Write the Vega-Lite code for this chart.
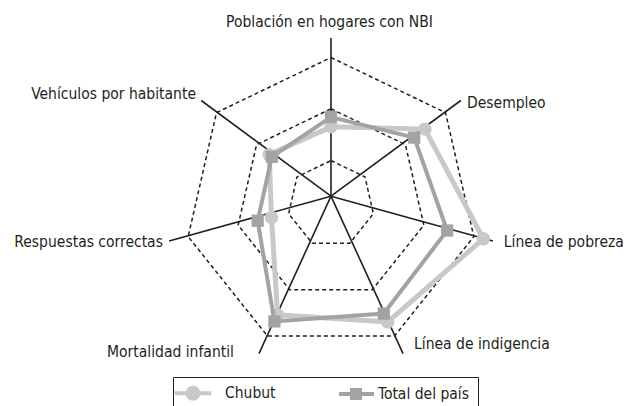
{
  "$schema": "https://vega.github.io/schema/vega-lite/v6.json",
  "width": 626,
  "height": 406,
  "padding": 0,
  "autosize": {"type": "none"},
  "background": "white",
  "config": {"view": {"stroke": null}, "font": "DejaVu Sans Condensed, Liberation Sans, sans-serif"},
  "datasets": {
    "ejes": [
      {"idx": 0, "eje": "Población en hogares con NBI"},
      {"idx": 1, "eje": "Desempleo"},
      {"idx": 2, "eje": "Línea de pobreza"},
      {"idx": 3, "eje": "Línea de indigencia"},
      {"idx": 4, "eje": "Mortalidad infantil"},
      {"idx": 5, "eje": "Respuestas correctas"},
      {"idx": 6, "eje": "Vehículos por habitante"}
    ],
    "anillos": [
      {"nivel": 0.89, "idx": 0}, {"nivel": 0.89, "idx": 1}, {"nivel": 0.89, "idx": 2}, {"nivel": 0.89, "idx": 3}, {"nivel": 0.89, "idx": 4}, {"nivel": 0.89, "idx": 5}, {"nivel": 0.89, "idx": 6},
      {"nivel": 1.95, "idx": 0}, {"nivel": 1.95, "idx": 1}, {"nivel": 1.95, "idx": 2}, {"nivel": 1.95, "idx": 3}, {"nivel": 1.95, "idx": 4}, {"nivel": 1.95, "idx": 5}, {"nivel": 1.95, "idx": 6},
      {"nivel": 3.0, "idx": 0}, {"nivel": 3.0, "idx": 1}, {"nivel": 3.0, "idx": 2}, {"nivel": 3.0, "idx": 3}, {"nivel": 3.0, "idx": 4}, {"nivel": 3.0, "idx": 5}, {"nivel": 3.0, "idx": 6}
    ],
    "series": [
      {"serie": "Chubut", "idx": 0, "valor": 1.58},
      {"serie": "Chubut", "idx": 1, "valor": 2.46},
      {"serie": "Chubut", "idx": 2, "valor": 3.20},
      {"serie": "Chubut", "idx": 3, "valor": 2.68},
      {"serie": "Chubut", "idx": 4, "valor": 2.52},
      {"serie": "Chubut", "idx": 5, "valor": 1.25},
      {"serie": "Chubut", "idx": 6, "valor": 1.62},
      {"serie": "Total del país", "idx": 0, "valor": 1.78},
      {"serie": "Total del país", "idx": 1, "valor": 2.18},
      {"serie": "Total del país", "idx": 2, "valor": 2.44},
      {"serie": "Total del país", "idx": 3, "valor": 2.49},
      {"serie": "Total del país", "idx": 4, "valor": 2.67},
      {"serie": "Total del país", "idx": 5, "valor": 1.54},
      {"serie": "Total del país", "idx": 6, "valor": 1.55}
    ]
  },
  "encoding": {
    "x": {"field": "x", "type": "quantitative", "scale": {"domain": [-6.7786, 6.0414], "nice": false, "zero": false}, "axis": null},
    "y": {"field": "y", "type": "quantitative", "scale": {"domain": [-4.1368, 4.1777], "nice": false, "zero": false}, "axis": null}
  },
  "layer": [
    {
      "data": {"name": "anillos"},
      "transform": [
        {"calculate": "datum.idx * 2 * PI / 7", "as": "t"},
        {"calculate": "datum.nivel * sin(datum.t)", "as": "x"},
        {"calculate": "datum.nivel * cos(datum.t)", "as": "y"}
      ],
      "mark": {"type": "line", "interpolate": "linear-closed", "stroke": "#231f20", "strokeWidth": 1.5, "strokeDash": [4, 3]},
      "encoding": {"detail": {"field": "nivel", "type": "nominal"}, "order": {"field": "idx", "type": "quantitative"}}
    },
    {
      "data": {"name": "ejes"},
      "transform": [
        {"calculate": "datum.idx * 2 * PI / 7", "as": "t"},
        {"calculate": "3.4 * sin(datum.t)", "as": "x"},
        {"calculate": "3.4 * cos(datum.t)", "as": "y"}
      ],
      "mark": {"type": "rule", "stroke": "#231f20", "strokeWidth": 1.6},
      "encoding": {"x2": {"datum": 0}, "y2": {"datum": 0.16}}
    },
    {
      "data": {"name": "series"},
      "transform": [
        {"filter": "datum.serie === 'Chubut'"},
        {"calculate": "datum.idx * 2 * PI / 7", "as": "t"},
        {"calculate": "datum.valor * sin(datum.t)", "as": "x"},
        {"calculate": "datum.valor * cos(datum.t)", "as": "y"}
      ],
      "mark": {"type": "line", "interpolate": "linear-closed", "strokeWidth": 5, "color": "#c8c8c8"},
      "encoding": {"order": {"field": "idx", "type": "quantitative"}}
    },
    {
      "data": {"name": "series"},
      "transform": [
        {"filter": "datum.serie === 'Chubut'"},
        {"calculate": "datum.idx * 2 * PI / 7", "as": "t"},
        {"calculate": "datum.valor * sin(datum.t)", "as": "x"},
        {"calculate": "datum.valor * cos(datum.t)", "as": "y"}
      ],
      "mark": {"type": "point", "shape": "circle", "filled": true, "size": 180, "opacity": 1, "color": "#c8c8c8"}
    },
    {
      "data": {"name": "series"},
      "transform": [
        {"filter": "datum.serie === 'Total del país'"},
        {"calculate": "datum.idx * 2 * PI / 7", "as": "t"},
        {"calculate": "datum.valor * sin(datum.t)", "as": "x"},
        {"calculate": "datum.valor * cos(datum.t)", "as": "y"}
      ],
      "mark": {"type": "line", "interpolate": "linear-closed", "strokeWidth": 4, "color": "#a3a3a3"},
      "encoding": {"order": {"field": "idx", "type": "quantitative"}}
    },
    {
      "data": {"name": "series"},
      "transform": [
        {"filter": "datum.serie === 'Total del país'"},
        {"calculate": "datum.idx * 2 * PI / 7", "as": "t"},
        {"calculate": "datum.valor * sin(datum.t)", "as": "x"},
        {"calculate": "datum.valor * cos(datum.t)", "as": "y"}
      ],
      "mark": {"type": "point", "shape": "square", "filled": true, "size": 150, "opacity": 1, "color": "#a3a3a3"}
    },
    {
      "data": {"name": "series"},
      "transform": [
        {"filter": "datum.idx === 0"},
        {"calculate": "datum.idx * 2 * PI / 7", "as": "t"},
        {"calculate": "datum.valor * sin(datum.t)", "as": "x"},
        {"calculate": "datum.valor * cos(datum.t)", "as": "y"}
      ],
      "mark": {"type": "point", "filled": true, "opacity": 0, "strokeWidth": 4, "size": 144},
      "encoding": {
        "fill": {
          "field": "serie", "type": "nominal",
          "scale": {"domain": ["Chubut", "Total del país"], "range": ["#c8c8c8", "#a3a3a3"]},
          "legend": {
            "orient": "none", "legendX": 173, "legendY": 377, "direction": "horizontal", "title": null,
            "strokeColor": "#231f20", "padding": 8, "labelFont": "DejaVu Sans Condensed, Liberation Sans, sans-serif", "labelFontSize": 15.5,
            "labelColor": "#231f20", "symbolSize": 144, "symbolStrokeWidth": 4, "symbolOpacity": 1, "symbolOffset": 4, "labelOffset": 24, "columnPadding": 55
          }
        },
        "stroke": {
          "field": "serie", "type": "nominal",
          "scale": {"domain": ["Chubut", "Total del país"], "range": ["#c8c8c8", "#a3a3a3"]},
          "legend": {
            "orient": "none", "legendX": 173, "legendY": 377, "direction": "horizontal", "title": null,
            "strokeColor": "#231f20", "padding": 8, "labelFont": "DejaVu Sans Condensed, Liberation Sans, sans-serif", "labelFontSize": 15.5,
            "labelColor": "#231f20", "symbolSize": 144, "symbolStrokeWidth": 4, "symbolOpacity": 1, "symbolOffset": 4, "labelOffset": 24, "columnPadding": 55
          }
        },
        "shape": {
          "field": "serie", "type": "nominal",
          "scale": {"domain": ["Chubut", "Total del país"], "range": ["M-3.05,0H3.05M-0.92,0A0.92,0.92 0 1,1 0.92,0A0.92,0.92 0 1,1 -0.92,0Z", "M-1.16,0H4.67M1.0,-0.67H2.34V0.67H1.0Z"]},
          "legend": {
            "orient": "none", "legendX": 173, "legendY": 377, "direction": "horizontal", "title": null,
            "strokeColor": "#231f20", "padding": 8, "labelFont": "DejaVu Sans Condensed, Liberation Sans, sans-serif", "labelFontSize": 15.5,
            "labelColor": "#231f20", "symbolSize": 144, "symbolStrokeWidth": 4, "symbolOpacity": 1, "symbolOffset": 4, "labelOffset": 24, "columnPadding": 55
          }
        }
      }
    },
    {
      "data": {"name": "ejes"},
      "transform": [{"filter": "datum.idx === 0"}, {"calculate": "datum.idx * 2 * PI / 7", "as": "t"}, {"calculate": "3.4 * sin(datum.t)", "as": "x"}, {"calculate": "3.4 * cos(datum.t)", "as": "y"}],
      "mark": {"type": "text", "align": "center", "baseline": "alphabetic", "dx": -1.5, "dy": -11.3, "fontSize": 15.5, "color": "#231f20"},
      "encoding": {"text": {"field": "eje"}}
    },
    {
      "data": {"name": "ejes"},
      "transform": [{"filter": "datum.idx === 1"}, {"calculate": "datum.idx * 2 * PI / 7", "as": "t"}, {"calculate": "3.4 * sin(datum.t)", "as": "x"}, {"calculate": "3.4 * cos(datum.t)", "as": "y"}],
      "mark": {"type": "text", "align": "left", "baseline": "alphabetic", "dx": 6.2, "dy": 7.8, "fontSize": 15.5, "color": "#231f20"},
      "encoding": {"text": {"field": "eje"}}
    },
    {
      "data": {"name": "ejes"},
      "transform": [{"filter": "datum.idx === 2"}, {"calculate": "datum.idx * 2 * PI / 7", "as": "t"}, {"calculate": "3.4 * sin(datum.t)", "as": "x"}, {"calculate": "3.4 * cos(datum.t)", "as": "y"}],
      "mark": {"type": "text", "align": "left", "baseline": "alphabetic", "dx": 11, "dy": 5.7, "fontSize": 15.5, "color": "#231f20"},
      "encoding": {"text": {"field": "eje"}}
    },
    {
      "data": {"name": "ejes"},
      "transform": [{"filter": "datum.idx === 3"}, {"calculate": "datum.idx * 2 * PI / 7", "as": "t"}, {"calculate": "3.4 * sin(datum.t)", "as": "x"}, {"calculate": "3.4 * cos(datum.t)", "as": "y"}],
      "mark": {"type": "text", "align": "left", "baseline": "alphabetic", "dx": 11, "dy": -4.6, "fontSize": 15.5, "color": "#231f20"},
      "encoding": {"text": {"field": "eje"}}
    },
    {
      "data": {"name": "ejes"},
      "transform": [{"filter": "datum.idx === 4"}, {"calculate": "datum.idx * 2 * PI / 7", "as": "t"}, {"calculate": "3.4 * sin(datum.t)", "as": "x"}, {"calculate": "3.4 * cos(datum.t)", "as": "y"}],
      "mark": {"type": "text", "align": "right", "baseline": "alphabetic", "dx": -25, "dy": 3.1, "fontSize": 15.5, "color": "#231f20"},
      "encoding": {"text": {"field": "eje"}}
    },
    {
      "data": {"name": "ejes"},
      "transform": [{"filter": "datum.idx === 5"}, {"calculate": "datum.idx * 2 * PI / 7", "as": "t"}, {"calculate": "3.4 * sin(datum.t)", "as": "x"}, {"calculate": "3.4 * cos(datum.t)", "as": "y"}],
      "mark": {"type": "text", "align": "right", "baseline": "alphabetic", "dx": -6.2, "dy": 5.7, "fontSize": 15.5, "color": "#231f20"},
      "encoding": {"text": {"field": "eje"}}
    },
    {
      "data": {"name": "ejes"},
      "transform": [{"filter": "datum.idx === 6"}, {"calculate": "datum.idx * 2 * PI / 7", "as": "t"}, {"calculate": "3.4 * sin(datum.t)", "as": "x"}, {"calculate": "3.4 * cos(datum.t)", "as": "y"}],
      "mark": {"type": "text", "align": "right", "baseline": "alphabetic", "dx": -5.2, "dy": -1, "fontSize": 15.5, "color": "#231f20"},
      "encoding": {"text": {"field": "eje"}}
    }
  ]
}
